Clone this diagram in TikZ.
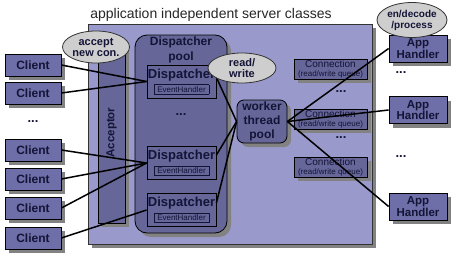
\documentclass[tikz,border=0pt]{standalone}
\usepackage{fontspec}
\setmainfont{Liberation Sans}
\usepackage{graphicx}
\usepackage{tikz}
\usetikzlibrary{shapes.geometric,shadows,positioning}

\definecolor{serverbg}{RGB}{153,153,204}
\definecolor{boxblue}{RGB}{102,102,153}
\definecolor{clientblue}{RGB}{110,110,168}
\definecolor{bubblegray}{RGB}{206,206,206}
\definecolor{shadowgray}{RGB}{130,130,130}
\definecolor{navytext}{RGB}{20,20,55}

% small framed label inside a dispatcher
\newcommand{\evhandler}{{\setlength{\fboxsep}{1.5pt}\setlength{\fboxrule}{0.6pt}%
  \fbox{\makebox[51pt]{\fontsize{8}{8}\selectfont\mdseries EventHandler}}}}

\tikzset{
  shadowed/.style={drop shadow={shadow xshift=4pt,shadow yshift=-4pt,fill=shadowgray,opacity=1}},
  box/.style={draw=black,line width=0.8pt,fill=boxblue,text=navytext,inner sep=0pt,align=center},
  client/.style={box,shadowed,fill=clientblue,minimum width=56pt,minimum height=22pt,
    font=\fontsize{12}{13}\selectfont\bfseries},
  apphandler/.style={box,shadowed,fill=clientblue,minimum width=58pt,minimum height=27pt,
    font=\fontsize{11.5}{11.5}\selectfont\bfseries},
  dispatcher/.style={box,minimum width=69pt,minimum height=33pt,
    font=\fontsize{13}{14}\selectfont\bfseries},
  connection/.style={box,shadowed,minimum width=73pt,minimum height=20pt,
    font=\fontsize{10}{9}\selectfont},
  bubble/.style={ellipse,draw=black!80,line width=0.8pt,fill=bubblegray,inner sep=0pt,
    align=center,text=navytext,font=\fontsize{11}{11}\selectfont\bfseries},
  link/.style={line width=1.5pt},
  dots/.style={font=\fontsize{13}{13}\selectfont\bfseries,text=navytext},
}

\begin{document}
\begin{tikzpicture}[x=1pt,y=-1pt]
\useasboundingbox (0,0) rectangle (465,260);

% server frame
\node[box,shadowed,fill=serverbg,draw=black!80,minimum width=284pt,minimum height=220pt] (server) at (230,134) {};
\node[font=\fontsize{14}{14}\selectfont,text=black!85] (title) at (211,15) {application independent server classes};

% acceptor and dispatcher pool
\node[box,shadowed,minimum width=27pt,minimum height=181pt,font=\fontsize{11.5}{12}\selectfont\bfseries] (acceptor) at (111.5,132.5) {\rotatebox{90}{Acceptor}};
\node[box,shadowed,rounded corners=12pt,minimum width=92pt,minimum height=198pt] (pool) at (181,134) {};
\node[font=\fontsize{12}{15}\selectfont\bfseries,text=navytext,align=center] (pooltitle) at (181,49.5) {Dispatcher\\pool};

\node[dispatcher] (d1) at (181.5,81.5) {Dispatcher\\\evhandler};
\node[dots] (pdots) at (181,115) {...};
\node[dispatcher] (d2) at (181.5,163) {Dispatcher\\\evhandler};
\node[dispatcher] (d3) at (181.5,210) {Dispatcher\\\evhandler};

% worker pool and connections
\node[box,shadowed,rounded corners=7pt,minimum width=50pt,minimum height=43pt,font=\fontsize{12}{14}\selectfont\bfseries] (worker) at (262,121.5) {worker\\thread\\pool};

\node[connection] (con1) at (330.5,69) {Connection\\{\fontsize{8}{8}\selectfont (read/write queue)}};
\node[dots] (cdots1) at (341,92) {...};
\node[connection] (con2) at (330.5,119) {Connection\\{\fontsize{8}{8}\selectfont (read/write queue)}};
\node[dots] (cdots2) at (341,138) {...};
\node[connection] (con3) at (330.5,167) {Connection\\{\fontsize{8}{8}\selectfont (read/write queue)}};

% clients
\node[client] (c1) at (33,65) {Client};
\node[client] (c2) at (33,93) {Client};
\node[dots] (clidots) at (33,122) {...};
\node[client] (c3) at (33,150) {Client};
\node[client] (c4) at (33,179) {Client};
\node[client] (c5) at (33,208) {Client};
\node[client] (c6) at (33,238) {Client};

% application handlers
\node[apphandler] (a1) at (418,48.5) {App\\Handler};
\node[dots] (adots1) at (401,73) {...};
\node[apphandler] (a2) at (418,110) {App\\Handler};
\node[dots] (adots2) at (401,157) {...};
\node[apphandler] (a3) at (418,206.5) {App\\Handler};

% connectors
\draw[link] (c1.east) -- (d1.west);
\draw[link] (c2.east) -- (d1.west);
\draw[link] (c3.east) -- (d2.west);
\draw[link] (c4.east) -- (d2.west);
\draw[link] (c5.east) -- (d2.west);
\draw[link] (c6.east) -- (d3.west);
\draw[link] ([yshift=4pt]d1.east) -- (worker.west);
\draw[link] ([yshift=8pt]d2.east) -- (worker.west);
\draw[link] ([yshift=7pt]d3.east) -- (worker.west);
\draw[link] (worker.east) -- (a1.west);
\draw[link] (worker.east) -- (a2.west);
\draw[link] (worker.east) -- (a3.west);

% notes
\node[bubble,minimum width=67pt,minimum height=32pt] (acceptnote) at (96,47) {accept\\new con.};
\node[bubble,minimum width=68pt,minimum height=30pt] (rwnote) at (242,68) {read/\\write};
\node[bubble,minimum width=70pt,minimum height=35pt,font=\fontsize{10}{11}\selectfont\bfseries] (codenote) at (412,20) {en/decode\\/process};
\end{tikzpicture}
\end{document}
